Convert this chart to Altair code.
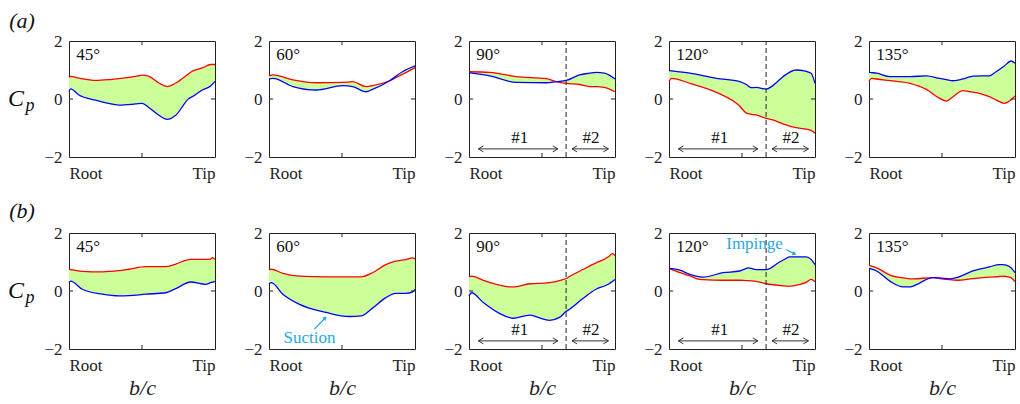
import altair as alt
import pandas as pd

# ---------------- data ----------------
# Row (a)
A45_X = [0, 0.011, 0.068, 0.183, 0.297, 0.342, 0.457, 0.502, 0.548, 0.616, 0.673, 0.731, 0.822, 0.845, 0.913, 0.970, 1.0]
A45_RED = [0.75, 0.78, 0.72, 0.64, 0.68, 0.70, 0.78, 0.82, 0.78, 0.55, 0.43, 0.55, 0.88, 0.96, 1.07, 1.19, 1.19]
A45_BLUE = [0.26, 0.35, 0.14, -0.04, -0.18, -0.21, -0.17, -0.15, -0.30, -0.56, -0.70, -0.56, 0.02, 0.08, 0.31, 0.45, 0.61]

A60_X = [0, 0.027, 0.164, 0.323, 0.505, 0.573, 0.664, 0.709, 0.823, 0.914, 1.0]
A60_RED = [0.80, 0.83, 0.66, 0.56, 0.57, 0.60, 0.43, 0.46, 0.62, 0.85, 1.08]
A60_BLUE = [0.69, 0.71, 0.43, 0.31, 0.46, 0.43, 0.25, 0.33, 0.62, 0.94, 1.14]

A90_X = [0, 0.143, 0.325, 0.530, 0.598, 0.666, 0.757, 0.825, 0.870, 0.927, 1.0]
A90_RED = [0.94, 0.92, 0.77, 0.70, 0.60, 0.54, 0.50, 0.43, 0.43, 0.40, 0.25]
A90_BLUE = [0.91, 0.80, 0.57, 0.56, 0.60, 0.64, 0.83, 0.89, 0.92, 0.89, 0.69]

A120_X = [0, 0.018, 0.143, 0.325, 0.484, 0.530, 0.564, 0.598, 0.666, 0.711, 0.780, 0.870, 0.927, 0.973, 1.0]
A120_RED = [0.60, 0.71, 0.54, 0.23, -0.24, -0.49, -0.53, -0.55, -0.67, -0.72, -0.86, -0.99, -1.03, -1.08, -1.18]
A120_BLUE = [0.98, 0.97, 0.89, 0.71, 0.60, 0.50, 0.39, 0.40, 0.34, 0.46, 0.77, 1.00, 0.97, 0.89, 0.54]

A135_X = [0, 0.018, 0.052, 0.143, 0.280, 0.393, 0.484, 0.530, 0.575, 0.643, 0.689, 0.711, 0.780, 0.825, 0.870, 0.927, 0.973, 1.0]
A135_RED = [0.62, 0.71, 0.69, 0.63, 0.54, 0.33, 0.02, -0.07, 0.08, 0.29, 0.25, 0.24, 0.16, 0.08, -0.03, -0.15, -0.03, 0.11]
A135_BLUE = [0.92, 0.91, 0.89, 0.77, 0.77, 0.80, 0.71, 0.67, 0.63, 0.69, 0.76, 0.79, 0.80, 0.80, 0.94, 1.14, 1.31, 1.23]

# Row (b)
B45_X = [0, 0.011, 0.091, 0.228, 0.342, 0.411, 0.525, 0.662, 0.731, 0.833, 0.936, 0.970, 0.982, 1.0]
B45_RED = [0.75, 0.74, 0.68, 0.66, 0.70, 0.75, 0.84, 0.84, 0.93, 1.09, 1.09, 1.10, 1.15, 1.09]
B45_BLUE = [0.29, 0.34, 0.06, -0.11, -0.17, -0.16, -0.11, -0.06, 0.08, 0.31, 0.23, 0.29, 0.31, 0.32]

B60_X = [0, 0.016, 0.095, 0.209, 0.391, 0.550, 0.630, 0.709, 0.800, 0.868, 0.936, 0.982, 1.0]
B60_RED = [0.74, 0.75, 0.61, 0.51, 0.49, 0.49, 0.49, 0.63, 0.91, 1.03, 1.08, 1.14, 1.11]
B60_BLUE = [0.25, 0.29, -0.11, -0.46, -0.74, -0.88, -0.86, -0.59, -0.23, -0.08, -0.08, -0.04, 0.06]

B90_X = [0, 0.018, 0.098, 0.211, 0.280, 0.302, 0.416, 0.473, 0.552, 0.620, 0.666, 0.689, 0.780, 0.870, 0.936, 0.959, 0.982, 1.0]
B90_RED = [0.49, 0.51, 0.37, 0.20, 0.14, 0.14, 0.25, 0.26, 0.29, 0.36, 0.43, 0.50, 0.74, 0.97, 1.12, 1.20, 1.29, 1.22]
B90_BLUE = [-0.17, -0.06, -0.40, -0.78, -0.92, -0.94, -0.83, -0.91, -1.01, -0.91, -0.70, -0.63, -0.26, 0.06, 0.19, 0.25, 0.33, 0.40]

B120_X = [0, 0.075, 0.143, 0.211, 0.234, 0.370, 0.484, 0.530, 0.541, 0.598, 0.666, 0.757, 0.802, 0.825, 0.893, 0.939, 0.973, 1.0]
B120_RED = [0.78, 0.63, 0.52, 0.40, 0.39, 0.37, 0.37, 0.36, 0.36, 0.33, 0.25, 0.19, 0.17, 0.17, 0.23, 0.30, 0.40, 0.32]
B120_BLUE = [0.78, 0.72, 0.57, 0.49, 0.48, 0.63, 0.69, 0.78, 0.80, 0.74, 0.74, 1.00, 1.12, 1.18, 1.18, 1.18, 1.09, 0.91]

B135_X = [0, 0.052, 0.143, 0.234, 0.280, 0.302, 0.439, 0.484, 0.552, 0.598, 0.711, 0.825, 0.893, 0.916, 0.939, 0.973, 1.0]
B135_RED = [0.88, 0.80, 0.55, 0.45, 0.42, 0.42, 0.46, 0.43, 0.39, 0.37, 0.43, 0.48, 0.50, 0.51, 0.50, 0.46, 0.32]
B135_BLUE = [0.78, 0.69, 0.34, 0.14, 0.14, 0.17, 0.46, 0.45, 0.42, 0.46, 0.69, 0.83, 0.91, 0.91, 0.89, 0.80, 0.63]

ANGLES = ["45°", "60°", "90°", "120°", "135°"]
DIVIDER_X = 0.665
ZONE1 = [0.064, 0.609]
ZONE2 = [0.705, 0.955]
ZONE_Y = -1.72
ZONE_LABELS = ["#1", "#2"]
ZONE_LABEL_X = [0.348, 0.836]
ZONE_LABEL_Y = -1.36

# ---------------- style ----------------
FONT = "Liberation Serif"
W, H = 146, 116
RED, BLUE, FILL = "#ff0000", "#0000ff", "#ccff99"
ANNO = "#2aa8e0"
INK = "#222222"

XS = alt.Scale(domain=[0, 1], nice=False, zero=False)
YS = alt.Scale(domain=[-2, 2], nice=False, zero=False)


def panel(xv, red, blue, angle, zones=False, bottom=False, first=False, tag=None, extra=None):
    df = pd.DataFrame({"x": xv, "red": red, "blue": blue})
    base = alt.Chart(df)
    xaxis = alt.Axis(values=[0, 1], labelExpr="datum.value == 0 ? 'Root' : 'Tip'",
                     labelFlush=True, ticks=False, domain=False, grid=False,
                     labelFont=FONT, labelFontSize=17, labelColor=INK, labelPadding=8,
                     title="b/c" if bottom else None, titleFont=FONT, titleFontSize=22,
                     titleFontStyle="italic", titleFontWeight="normal", titleColor=INK,
                     titlePadding=4)
    yaxis = alt.Axis(values=[-2, 0, 2],
                     labelExpr="datum.value < 0 ? '\u22122' : (datum.value > 0 ? '2' : '0')",
                     ticks=False, domain=False, grid=False, title=None,
                     labelFont=FONT, labelFontSize=17, labelColor=INK, labelPadding=7)
    area = base.mark_area(color=FILL, opacity=1, interpolate="monotone").encode(
        x=alt.X("x:Q", scale=XS, axis=xaxis),
        y=alt.Y("red:Q", scale=YS, axis=yaxis),
        y2="blue:Q",
    )
    lred = base.mark_line(color=RED, strokeWidth=1.3, interpolate="monotone").encode(
        x=alt.X("x:Q", scale=XS), y=alt.Y("red:Q", scale=YS))
    lblue = base.mark_line(color=BLUE, strokeWidth=1.3, interpolate="monotone").encode(
        x=alt.X("x:Q", scale=XS), y=alt.Y("blue:Q", scale=YS))

    # inward ticks (MATLAB style)
    tk = pd.DataFrame({
        "x": [0.5, 0.5, 0.0, 1.0],
        "x2": [0.5, 0.5, 0.028, 0.972],
        "y": [-2.0, 2.0, 0.0, 0.0],
        "y2": [-1.86, 1.86, 0.0, 0.0],
    })
    ticks = alt.Chart(tk).mark_rule(color=INK, strokeWidth=1).encode(
        x=alt.X("x:Q", scale=XS), x2="x2:Q", y=alt.Y("y:Q", scale=YS), y2="y2:Q")

    ang = alt.Chart(pd.DataFrame({"x": [0.05], "y": [1.35], "t": [angle]})).mark_text(
        font=FONT, fontSize=17, align="left", baseline="alphabetic", color="#111"
    ).encode(x=alt.X("x:Q", scale=XS), y=alt.Y("y:Q", scale=YS), text="t:N")

    layers = [area, lred, lblue, ticks, ang]

    if zones:
        div = alt.Chart(pd.DataFrame({"x": [DIVIDER_X], "y": [-2], "y2": [2]})).mark_rule(
            color=INK, strokeDash=[5, 3], strokeWidth=1).encode(
            x=alt.X("x:Q", scale=XS), y=alt.Y("y:Q", scale=YS), y2="y2:Q")
        zr = pd.DataFrame({"x": [ZONE1[0], ZONE2[0]], "x2": [ZONE1[1], ZONE2[1]],
                           "y": [ZONE_Y, ZONE_Y]})
        zrule = alt.Chart(zr).mark_rule(color="#333", strokeWidth=1).encode(
            x=alt.X("x:Q", scale=XS), x2="x2:Q", y=alt.Y("y:Q", scale=YS))
        heads_r = alt.Chart(pd.DataFrame({"x": [ZONE1[1], ZONE2[1]], "y": [ZONE_Y] * 2})).mark_point(
            shape="M-1.7,-1L0,0L-1.7,1", filled=False, size=36, color="#333", strokeWidth=1, opacity=1
        ).encode(x=alt.X("x:Q", scale=XS), y=alt.Y("y:Q", scale=YS))
        heads_l = alt.Chart(pd.DataFrame({"x": [ZONE1[0], ZONE2[0]], "y": [ZONE_Y] * 2})).mark_point(
            shape="M1.7,-1L0,0L1.7,1", filled=False, size=36, color="#333", strokeWidth=1, opacity=1
        ).encode(x=alt.X("x:Q", scale=XS), y=alt.Y("y:Q", scale=YS))
        zl = alt.Chart(pd.DataFrame({"x": ZONE_LABEL_X, "y": [ZONE_LABEL_Y] * 2, "t": ZONE_LABELS})).mark_text(
            font=FONT, fontSize=17, color="#111", baseline="middle"
        ).encode(x=alt.X("x:Q", scale=XS), y=alt.Y("y:Q", scale=YS), text="t:N")
        layers += [div, zrule, heads_r, heads_l, zl]

    if first:
        cp_c = alt.Chart(pd.DataFrame({"y": [0.0], "t": ["C"]})).mark_text(
            font=FONT, fontSize=24, fontStyle="italic", color="#111", align="center", baseline="middle"
        ).encode(x=alt.value(-53), y=alt.Y("y:Q", scale=YS), text="t:N")
        cp_p = alt.Chart(pd.DataFrame({"y": [0.0], "t": ["p"]})).mark_text(
            font=FONT, fontSize=18, fontStyle="italic", color="#111", align="center", baseline="middle", dy=7
        ).encode(x=alt.value(-39), y=alt.Y("y:Q", scale=YS), text="t:N")
        tg = alt.Chart(pd.DataFrame({"t": [tag]})).mark_text(
            font=FONT, fontSize=22, fontStyle="italic", color="#111", align="center", baseline="middle"
        ).encode(x=alt.value(-47), y=alt.value(-20 if tag == "(a)" else -22), text="t:N")
        layers += [cp_c, cp_p, tg]

    if extra is not None:
        layers += extra

    return alt.layer(*layers).properties(width=W, height=H)


def arrow(x0, y0, x1, y1, label, lx, ly, angle):
    seg = alt.Chart(pd.DataFrame({"x": [x0], "x2": [x1], "y": [y0], "y2": [y1]})).mark_rule(
        color=ANNO, strokeWidth=1.2).encode(
        x=alt.X("x:Q", scale=XS), x2="x2:Q", y=alt.Y("y:Q", scale=YS), y2="y2:Q")
    head = alt.Chart(pd.DataFrame({"x": [x1], "y": [y1]})).mark_point(
        shape="triangle-up", filled=True, size=22, color=ANNO, angle=angle, opacity=1
    ).encode(x=alt.X("x:Q", scale=XS), y=alt.Y("y:Q", scale=YS))
    txt = alt.Chart(pd.DataFrame({"x": [lx], "y": [ly], "t": [label]})).mark_text(
        font=FONT, fontSize=17, color=ANNO, baseline="middle"
    ).encode(x=alt.X("x:Q", scale=XS), y=alt.Y("y:Q", scale=YS), text="t:N")
    return [seg, head, txt]


suction = arrow(0.311, -1.31, 0.385, -0.93, "Suction", 0.277, -1.62, 45)
impinge = arrow(0.802, 1.43, 0.860, 1.28, "Impinge", 0.586, 1.62, 118)

row_a = alt.hconcat(
    panel(A45_X, A45_RED, A45_BLUE, ANGLES[0], first=True, tag="(a)"),
    panel(A60_X, A60_RED, A60_BLUE, ANGLES[1]),
    panel(A90_X, A90_RED, A90_BLUE, ANGLES[2], zones=True),
    panel(A120_X, A120_RED, A120_BLUE, ANGLES[3], zones=True),
    panel(A135_X, A135_RED, A135_BLUE, ANGLES[4]),
    spacing=54, bounds="flush",
)
row_b = alt.hconcat(
    panel(B45_X, B45_RED, B45_BLUE, ANGLES[0], bottom=True, first=True, tag="(b)"),
    panel(B60_X, B60_RED, B60_BLUE, ANGLES[1], bottom=True, extra=suction),
    panel(B90_X, B90_RED, B90_BLUE, ANGLES[2], bottom=True, zones=True),
    panel(B120_X, B120_RED, B120_BLUE, ANGLES[3], bottom=True, zones=True, extra=impinge),
    panel(B135_X, B135_RED, B135_BLUE, ANGLES[4], bottom=True),
    spacing=54, bounds="flush",
)

chart = alt.vconcat(row_a, row_b, spacing=192, bounds="flush").properties(
    padding={"left": 7, "top": 9, "right": 0, "bottom": 0},
    background="white",
).configure_view(stroke=INK, strokeWidth=1).configure_axis(labelFont=FONT)

chart.save("out.html", embed_options={"renderer": "svg", "actions": False})
